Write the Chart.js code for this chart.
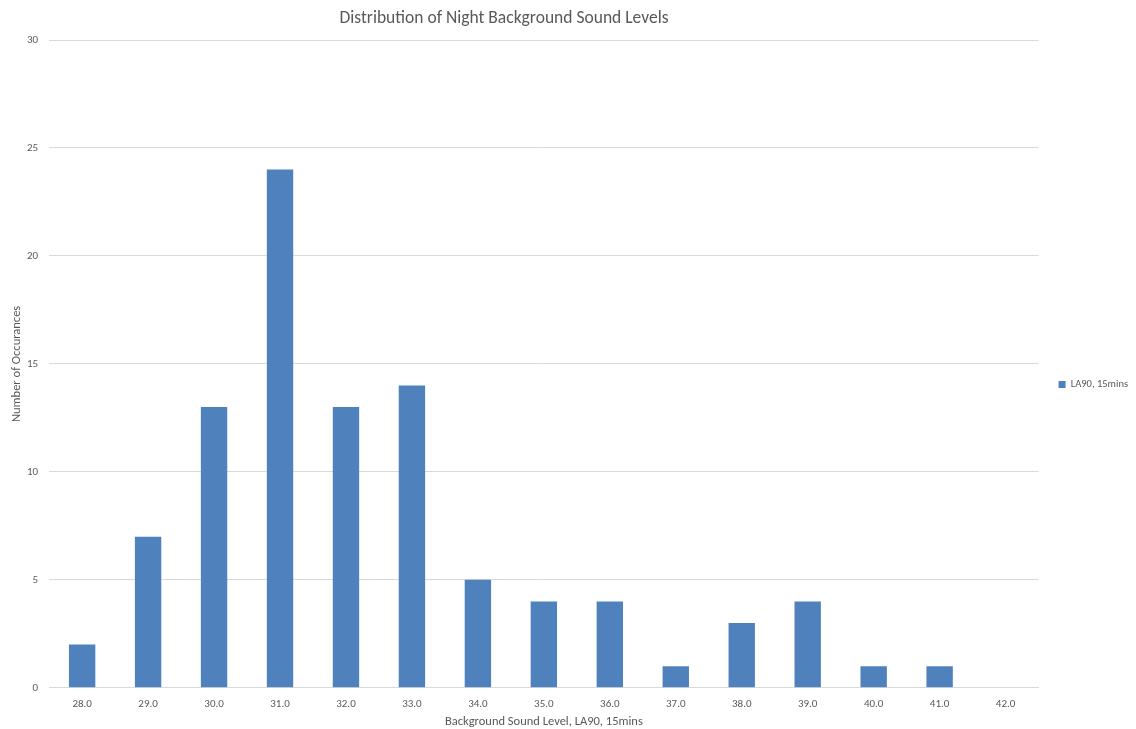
<!DOCTYPE html>
<html>
<head>
<meta charset="utf-8">
<script src="https://cdn.jsdelivr.net/npm/chart.js@4/dist/chart.umd.min.js"></script>
<style>
  html, body { margin: 0; padding: 0; background: #fff; }
  #wrap { width: 1136px; height: 729px; }
</style>
</head>
<body>
<div id="wrap"><canvas id="chart" width="1136" height="729"></canvas></div>
<script>
// Chart data
const soundLevels = ['28.0', '29.0', '30.0', '31.0', '32.0', '33.0', '34.0', '35.0',
  '36.0', '37.0', '38.0', '39.0', '40.0', '41.0', '42.0'];
const occurrences = [2, 7, 13, 24, 13, 14, 5, 4, 4, 1, 3, 4, 1, 1, 0];
const seriesName = 'LA90, 15mins';
const chartTitle = 'Distribution of Night Background Sound Levels';

const fontFamily = 'Carlito, Calibri, "Open Sans", "Liberation Sans", sans-serif';
const greyText = '#595959';

// Title sits a bit left of centre in the original, so draw it ourselves
const titlePlugin = {
  id: 'offsetTitle',
  afterDraw(chart) {
    const c = chart.ctx;
    c.save();
    c.font = '17.5px ' + fontFamily;
    c.fillStyle = greyText;
    c.textAlign = 'center';
    c.textBaseline = 'middle';
    c.fillText(chartTitle, 504, 19);
    c.restore();
  }
};

const ctx = document.getElementById('chart').getContext('2d');

const chart = new Chart(ctx, {
  type: 'bar',
  data: {
    labels: soundLevels,
    datasets: [{
      label: seriesName,
      data: occurrences,
      backgroundColor: '#4f81bd',
      borderWidth: 0,
      barPercentage: 0.4,
      categoryPercentage: 1.0
    }]
  },
  plugins: [titlePlugin],
  options: {
    responsive: false,
    animation: false,
    layout: { padding: { top: 40, left: 9, right: -2, bottom: 0 } },
    plugins: {
      title: { display: false },
      legend: {
        position: 'right',
        labels: {
          boxWidth: 7,
          boxHeight: 7,
          color: greyText,
          font: { family: fontFamily, size: 10.5 },
          padding: 20
        }
      },
      tooltip: { enabled: false }
    },
    scales: {
      x: {
        grid: { display: false, drawTicks: false },
        border: { display: true, color: '#d9d9d9' },
        ticks: {
          color: greyText,
          font: { family: fontFamily, size: 11 },
          padding: 10,
          maxRotation: 0
        },
        title: {
          display: true,
          text: 'Background Sound Level, LA90, 15mins',
          color: greyText,
          font: { family: fontFamily, size: 12.5 },
          padding: { top: -7, bottom: 0 }
        }
      },
      y: {
        min: 0,
        max: 30,
        grid: { color: '#d9d9d9', drawTicks: false },
        border: { display: false },
        ticks: {
          stepSize: 5,
          color: greyText,
          font: { family: fontFamily, size: 11 },
          padding: 11
        },
        title: {
          display: true,
          text: 'Number of Occurances',
          color: greyText,
          font: { family: fontFamily, size: 12.5 },
          padding: { top: 0, bottom: -8 }
        }
      }
    }
  }
});
</script>
</body>
</html>
